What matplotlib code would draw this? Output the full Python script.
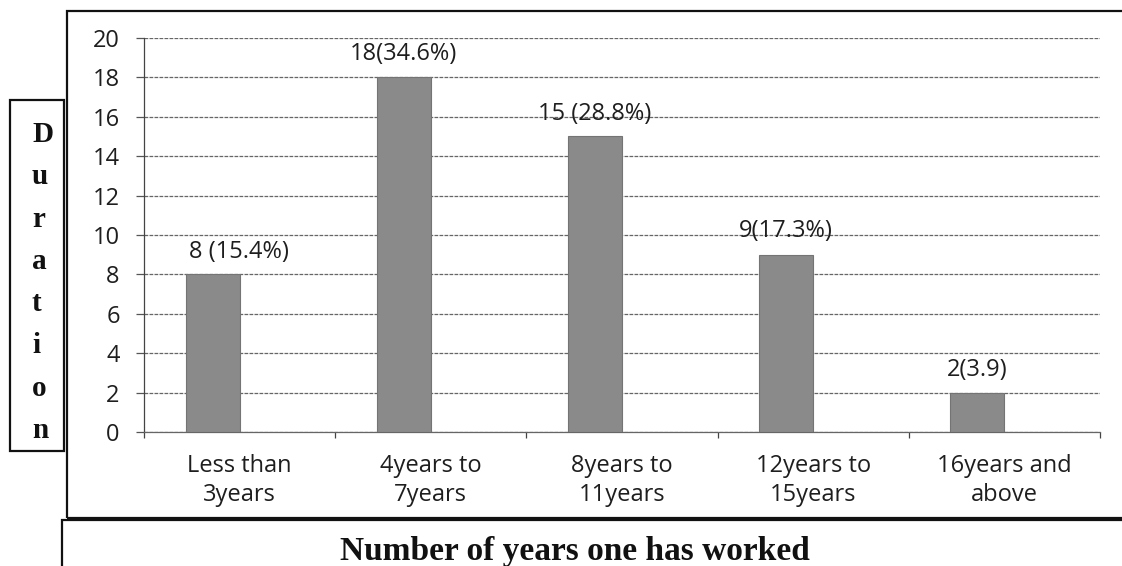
import numpy as np
import matplotlib
matplotlib.use("Agg")
from matplotlib import pyplot as plt
from matplotlib.patches import Rectangle

categories = ["Less than\n3years", "4years to\n7years", "8years to\n11years",
              "12years to\n15years", "16years and\nabove"]
counts = [8, 18, 15, 9, 2]
bar_labels = ["8 (15.4%)", "18(34.6%)", "15 (28.8%)", "9(17.3%)", "2(3.9)"]
y_ticks = [0, 2, 4, 6, 8, 10, 12, 14, 16, 18, 20]

# label placement tweaks (offset in points from bar top centre)
label_dx = [19, 0, 0, 0, 0]
label_dy = [16, 16.5, 16, 17, 16.5]

plt.rcParams['font.family'] = ['Open Sans', 'DejaVu Sans']
FS = 17

fig = plt.figure(figsize=(11.22, 5.66), dpi=100)
W, H = 1122, 566
ax = fig.add_axes([144 / W, 1 - 432 / H, (1100 - 144) / W, (432 - 38) / H])

x = np.arange(len(categories))
bar_x = x - 0.141
ax.bar(bar_x, counts, width=0.283, color='#8a8a8a', edgecolor='#747474',
       linewidth=0.8, zorder=3)

for bx, v, lab, dx, dy in zip(bar_x, counts, bar_labels, label_dx, label_dy):
    ax.annotate(lab, (bx, v), xytext=(dx, dy), textcoords='offset points',
                ha='center', va='center', fontsize=FS, color='#1e1e1e',
                annotation_clip=False)

ax.set_xlim(-0.5, len(categories) - 0.5)
ax.set_ylim(0, 20)
ax.set_yticks(y_ticks)
ax.yaxis.grid(True, color='#666666', linewidth=0.9, linestyle=(0, (3, 1)))
ax.set_axisbelow(True)

ax.set_xticks(x)
ax.set_xticklabels(categories, fontsize=FS, linespacing=1.25, color='#1e1e1e')
ax.set_xticks(np.arange(-0.5, len(categories)), minor=True)
ax.tick_params(axis='x', which='major', length=0, pad=16)
ax.tick_params(axis='x', which='minor', length=4.5, width=0.9, color='#444444', direction='out')
ax.tick_params(axis='y', labelsize=FS, length=5.5, width=0.9, color='#555555',
               pad=12, labelcolor='#1e1e1e')

for s in ['top', 'right']:
    ax.spines[s].set_visible(False)
ax.spines['left'].set_color('#444444')
ax.spines['bottom'].set_color('#666666')
ax.spines['left'].set_linewidth(0.9)
ax.spines['bottom'].set_linewidth(0.9)


def px_rect(x0, y0, x1, y1, lw=1.6):
    r = Rectangle((x0 / W, 1 - y1 / H), (x1 - x0) / W, (y1 - y0) / H,
                  transform=fig.transFigure, fill=False, edgecolor='#111111',
                  linewidth=lw, clip_on=False)
    fig.add_artist(r)


# outer chart frame, x-label box, y-label box
px_rect(67, 11, 1130, 518)
px_rect(62, 520, 1130, 580)
px_rect(10, 100, 64, 451)

# vertical axis title, one letter per line
letters = "Duration"
baselines = np.linspace(142, 438, len(letters))
for ch, yy in zip(letters, baselines):
    fig.text(32 / W, 1 - yy / H, ch, ha='left', va='baseline', fontsize=21,
             fontweight='bold', family='Liberation Serif', color='#111111')

fig.text(575 / W, 1 - 560 / H, "Number of years one has worked", ha='center',
         va='baseline', fontsize=24, fontweight='bold', family='Liberation Serif',
         color='#111111')

fig.savefig('out.png', dpi=100)
